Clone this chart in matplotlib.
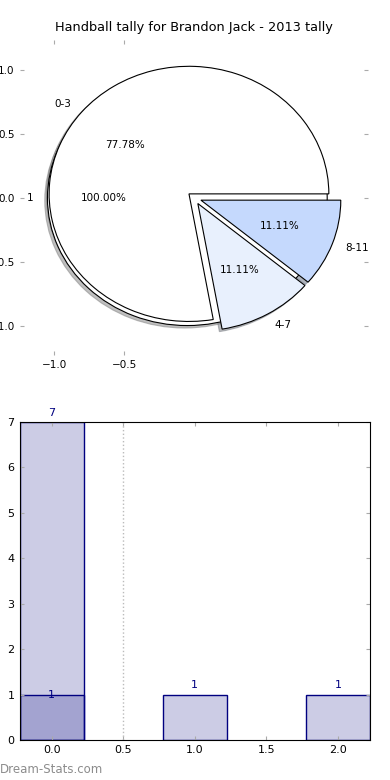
import matplotlib
matplotlib.use("Agg")
import matplotlib.pyplot as plt

# --- data ---
title = "Handball tally for Brandon Jack - 2013 tally"
total_labels = ["1"]
total_values = [1]
bins = ["0-3", "4-7", "8-11"]
tally = [7, 1, 1]
bin_colors = ["white", "#e8f0fd", "#c5d9fd"]

bar_x = [0, 1, 2]
bar_counts = [7, 1, 1]
overlay_x = [0]
overlay_counts = [1]

fig = plt.figure(figsize=(3.9, 7.8), dpi=100)

# ------ pie chart -------
ax1 = fig.add_axes([0.05, 0.545, 0.893, 0.404])
wedge_style = {"edgecolor": "black", "linewidth": 0.8}
shadow_style = {"ox": -0.014, "oy": -0.014, "shade": 0.5}
ax1.pie(total_values, labels=total_labels, colors=["white"], explode=[0.05],
        autopct="%1.2f%%", shadow=shadow_style, frame=True, wedgeprops=wedge_style,
        textprops={"fontsize": 7.5})
ax1.pie(tally, labels=bins, colors=bin_colors, explode=[0.05, 0.05, 0.05],
        autopct="%1.2f%%", shadow=shadow_style, frame=True, wedgeprops=wedge_style,
        textprops={"fontsize": 7.5})
ax1.set_aspect("auto")
ax1.set_xlim(-1.25, 1.24)
ax1.set_ylim(-1.23, 1.24)
ax1.set_xticks([-1.0, -0.5])
ax1.set_yticks([-1.0, -0.5, 0.0, 0.5, 1.0])
for s in ax1.spines.values():
    s.set_visible(False)
ax1.tick_params(direction="in", top=True, right=True, color="#aaaaaa",
                labelsize=7.5, length=3)
ax1.set_title(title, fontsize=9.3)

# ------ bar chart -------
ax2 = fig.add_axes([0.05, 0.0513, 0.899, 0.408])
bar_face = (0, 0, 0.5, 0.2)
ax2.bar(bar_x, bar_counts, width=0.45, color=bar_face, edgecolor="navy", linewidth=1)
ax2.bar(overlay_x, overlay_counts, width=0.45, color=bar_face, edgecolor="navy", linewidth=1)
for x, v in zip(bar_x, bar_counts):
    ax2.annotate(str(v), (x, v), xytext=(0, 3), textcoords="offset points",
                 ha="center", va="bottom", color="navy", fontsize=8)
for x, v in zip(overlay_x, overlay_counts):
    ax2.annotate(str(v), (x, v), ha="center", va="center", color="navy", fontsize=8)
ax2.axvline(0.5, color="#bbbbbb", linestyle=":", linewidth=1)
ax2.set_xlim(-0.225, 2.225)
ax2.set_ylim(0, 7)
ax2.set_xticks([0.0, 0.5, 1.0, 1.5, 2.0])
ax2.set_yticks(range(0, 8))
ax2.tick_params(direction="in", top=True, right=True, color="#aaaaaa",
                labelsize=8, length=3)

fig.text(0.0, 0.013, "Dream-Stats.com", color="#8c8c8c", fontsize=8.5, va="center")

fig.savefig("out.png", dpi=100)
